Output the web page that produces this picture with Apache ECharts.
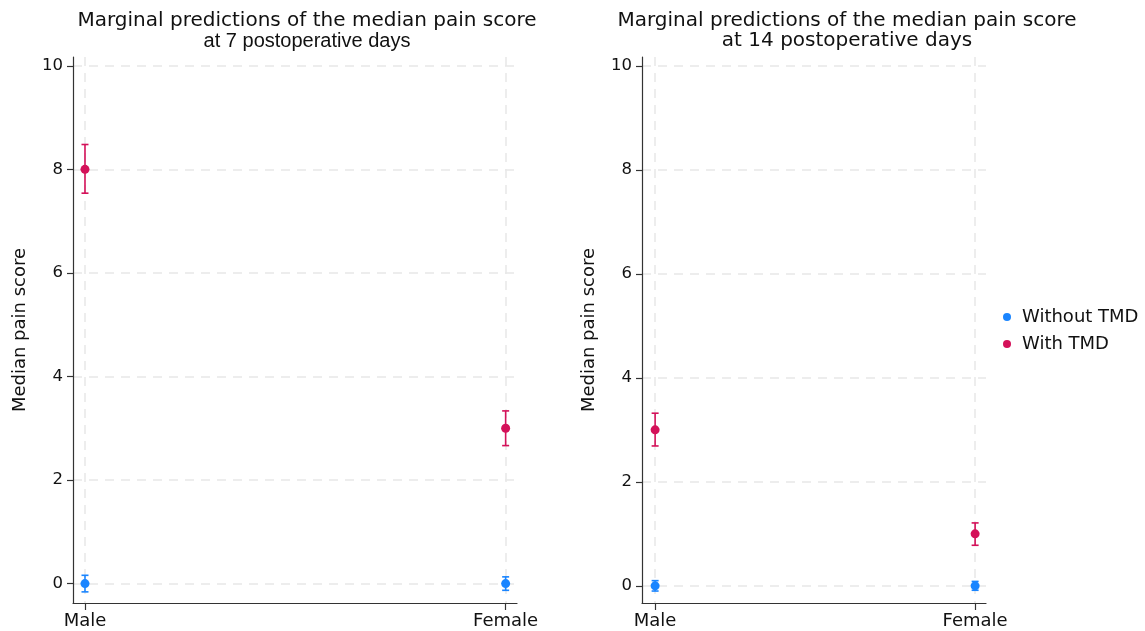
<!DOCTYPE html>
<html><head><meta charset="utf-8">
<script src="https://cdn.jsdelivr.net/npm/echarts@6/dist/echarts.min.js"></script>
<style>html,body{margin:0;padding:0;background:#fff}#c{width:1145px;height:631px}</style>
</head><body><div id="c"></div>
<script>
const categories = ['Male', 'Female'];
const groups = ['Without TMD', 'With TMD'];
const yTicks = [0, 2, 4, 6, 8, 10];
const titles = ['Marginal predictions of the median pain score', 'Marginal predictions of the median pain score'];
const subtitles = ['at 7 postoperative days', 'at 14 postoperative days'];
const yTitle = 'Median pain score';

// Day 7 panel
const d7Without = [0, 0];
const d7WithoutLo = [-0.16, -0.13];
const d7WithoutHi = [0.16, 0.13];
const d7With = [8, 3];
const d7WithLo = [7.54, 2.665];
const d7WithHi = [8.48, 3.335];

// Day 14 panel
const d14Without = [0, 0];
const d14WithoutLo = [-0.1, -0.085];
const d14WithoutHi = [0.1, 0.085];
const d14With = [3, 1];
const d14WithLo = [2.69, 0.78];
const d14WithHi = [3.32, 1.21];

const colors = ['#1A85FF', '#D41159'];
const FONT = 'DejaVu Sans';
const axisColor = '#333';
const gridColor = '#e8e8e8';

const panels = [
  { est: [d7Without, d7With], lo: [d7WithoutLo, d7WithLo], hi: [d7WithoutHi, d7WithHi],
    grid: { left: 73, top: 57, width: 444, height: 546 }, xmin: 0.9715, xmax: 2.027, ymin: -0.375, ymax: 10.17, tc: 302 },
  { est: [d14Without, d14With], lo: [d14WithoutLo, d14WithLo], hi: [d14WithoutHi, d14WithHi],
    grid: { left: 642, top: 57, width: 344, height: 546 }, xmin: 0.959, xmax: 2.034, ymin: -0.33, ymax: 10.17, tc: 842 }
];

function errRender(params, api) {
  const x = api.value(0), lo = api.value(1), hi = api.value(2);
  const p1 = api.coord([x, hi]), p2 = api.coord([x, lo]);
  const w = 3.5;
  const style = { stroke: api.visual('color'), lineWidth: 1.6 };
  return { type: 'group', children: [
    { type: 'line', shape: { x1: p1[0], y1: p1[1], x2: p2[0], y2: p2[1] }, style },
    { type: 'line', shape: { x1: p1[0] - w, y1: p1[1], x2: p1[0] + w, y2: p1[1] }, style },
    { type: 'line', shape: { x1: p2[0] - w, y1: p2[1], x2: p2[0] + w, y2: p2[1] }, style }
  ]};
}

const grids = [], xAxes = [], yAxes = [], series = [], titleArr = [];
panels.forEach((p, pi) => {
  grids.push(p.grid);
  titleArr.push({
    text: titles[pi], subtext: subtitles[pi], left: p.tc, top: 5, textAlign: 'center', itemGap: -2,
    textStyle: { fontFamily: FONT, fontSize: 20, fontWeight: 'normal', color: '#111', lineHeight: 22 },
    subtextStyle: { fontFamily: pi === 0 ? 'Liberation Sans' : FONT, fontSize: 20, color: '#111', lineHeight: 22 }
  });
  xAxes.push({
    type: 'value', gridIndex: pi, min: p.xmin, max: p.xmax,
    axisLine: { show: true, onZero: false, lineStyle: { color: axisColor, width: 1.2 } },
    axisTick: { show: true, length: 7, customValues: [1, 2], lineStyle: { color: axisColor, width: 1.2 } },
    axisLabel: { customValues: [1, 2], formatter: v => categories[Math.round(v) - 1], fontFamily: FONT, fontSize: 18, color: '#111', margin: 9 },
    splitLine: { show: true, lineStyle: { color: gridColor, type: [9, 7], width: 1.5 } }
  });
  yAxes.push({
    type: 'value', gridIndex: pi, min: p.ymin, max: p.ymax,
    name: yTitle, nameLocation: 'middle', nameGap: 44, nameRotate: 90,
    nameTextStyle: { fontFamily: FONT, fontSize: 18, color: '#111' },
    axisLine: { show: true, onZero: false, lineStyle: { color: axisColor, width: 1.2 } },
    axisTick: { show: true, length: 6, customValues: yTicks, lineStyle: { color: axisColor, width: 1.2 } },
    axisLabel: { customValues: yTicks, fontFamily: FONT, fontSize: 16.5, color: '#111', margin: 10 },
    splitLine: { show: true, lineStyle: { color: gridColor, type: [9, 7], width: 1.5 } }
  });
  groups.forEach((g, gi) => {
    series.push({
      type: 'custom', name: g + ' CI', xAxisIndex: pi, yAxisIndex: pi,
      itemStyle: { color: colors[gi] }, renderItem: errRender, silent: true,
      data: categories.map((c, ci) => [ci + 1, p.lo[gi][ci], p.hi[gi][ci]]), z: 3
    });
    series.push({
      type: 'scatter', name: g, xAxisIndex: pi, yAxisIndex: pi, symbol: 'circle', symbolSize: 9,
      itemStyle: { color: colors[gi], opacity: 1 },
      data: categories.map((c, ci) => [ci + 1, p.est[gi][ci]]), z: 4
    });
  });
});

const chart = echarts.init(document.getElementById('c'), null, { renderer: 'canvas' });
chart.setOption({
  animation: false,
  backgroundColor: '#fff',
  title: titleArr,
  legend: {
    data: groups.map((g, gi) => ({ name: g, itemStyle: { color: colors[gi] } })),
    orient: 'vertical', left: 998, top: 303, icon: 'circle', itemWidth: 8, itemHeight: 8, itemGap: 9,
    textStyle: { fontFamily: FONT, fontSize: 18, color: '#111', padding: [0, 0, 0, 6] }
  },
  grid: grids, xAxis: xAxes, yAxis: yAxes, series
});
</script></body></html>
